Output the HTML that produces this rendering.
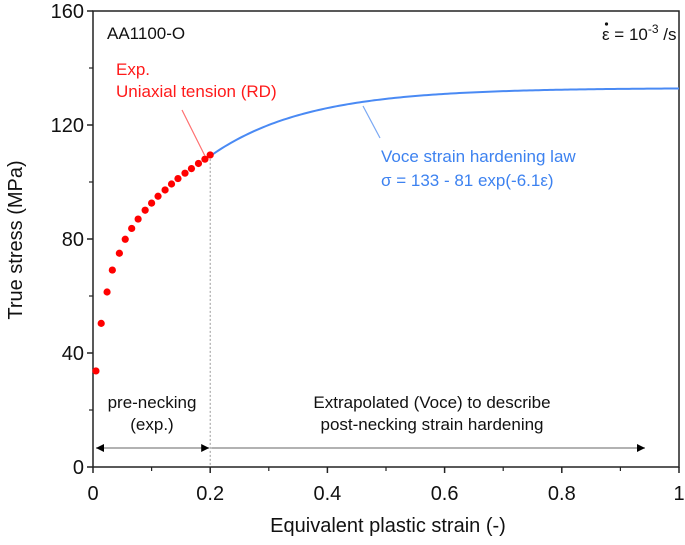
<!DOCTYPE html>
<html><head><meta charset="utf-8"><style>
html,body{margin:0;padding:0;background:#fff}
svg{display:block;font-family:"Liberation Sans",sans-serif}
</style></head><body>
<svg id="chart" width="685" height="545" viewBox="0 0 685 545"></svg>
<script>
const xTicks=[0,0.2,0.4,0.6,0.8,1];
const xTickLabels=["0","0.2","0.4","0.6","0.8","1"];
const yTicks=[0,40,80,120,160];
const yTickLabels=["0","40","80","120","160"];
const expStrain=[0.005,0.014,0.024,0.033,0.045,0.055,0.066,0.077,0.089,0.1,0.111,0.123,0.134,0.145,0.157,0.168,0.18,0.191,0.2];
const expStress=[33.7,50.4,61.4,69.1,75,79.9,83.7,87,90.1,92.6,95,97.2,99.3,101.2,103.1,104.7,106.5,108,109.5];
const voceParams=[133,81,6.1];
const voceRange=[0.2,1.0];

const X0=93,X1=679,Y0=467,Y1=11;
const sx=v=>X0+(v-0)/(1-0)*(X1-X0);
const sy=v=>Y0-(v-0)/(160-0)*(Y0-Y1);
const svg=document.getElementById('chart');
const NS='http://www.w3.org/2000/svg';
function mk(tag,attrs,parent){const e=document.createElementNS(NS,tag);for(const k in attrs)e.setAttribute(k,attrs[k]);(parent||svg).appendChild(e);return e;}

const defs=mk('defs',{});
const m=mk('marker',{id:'ah',viewBox:'0 0 10 10',refX:'10',refY:'5',markerWidth:'11',markerHeight:'8',orient:'auto-start-reverse',markerUnits:'userSpaceOnUse'},defs);
mk('path',{d:'M0,0 L10,5 L0,10 z',fill:'#000'},m);

const frame=mk('rect',{x:X0,y:Y1,width:X1-X0,height:Y0-Y1,fill:'none',stroke:'#222','stroke-width':1.5});



xTicks.forEach((t,i)=>{
  const tk=mk('line',{x1:sx(t),x2:sx(t),y1:Y0,y2:Y0+6,stroke:'#222','stroke-width':1.5});
  
  
  const tx=mk('text',{x:sx(t),y:500,'text-anchor':'middle','font-size':20,fill:'#111'});
  tx.textContent=xTickLabels[i];
  
  
  if(i<xTicks.length-1){
    const mt=mk('line',{x1:sx(t+0.1),x2:sx(t+0.1),y1:Y0,y2:Y0+4,stroke:'#222','stroke-width':1.2});
    
    
  }
});
yTicks.forEach((t,i)=>{
  const tk=mk('line',{x1:X0-6,x2:X0,y1:sy(t),y2:sy(t),stroke:'#222','stroke-width':1.5});
  
  
  const tx=mk('text',{x:X0-9,y:sy(t)+7,'text-anchor':'end','font-size':20,fill:'#111'});
  tx.textContent=yTickLabels[i];
  
  
  if(i<yTicks.length-1){
    const mt=mk('line',{x1:X0-4,x2:X0,y1:sy(t+20),y2:sy(t+20),stroke:'#222','stroke-width':1.2});
    
    
  }
});

const xt=mk('text',{x:388,y:532,'text-anchor':'middle','font-size':20,fill:'#111'});
xt.textContent='Equivalent plastic strain (-)';


const yt=mk('text',{x:0,y:0,'text-anchor':'middle','font-size':20,fill:'#111',transform:'translate(22,240) rotate(-90)'});
yt.textContent='True stress (MPa)';



const nl=mk('line',{x1:sx(0.2),x2:sx(0.2),y1:sy(expStress[expStress.length-1]),y2:Y0,stroke:'#999','stroke-width':1,'stroke-dasharray':'2,2'});



let d='';
for(let k=0;k<=160;k++){
  const e=voceRange[0]+(voceRange[1]-voceRange[0])*k/160;
  const s=voceParams[0]-voceParams[1]*Math.exp(-voceParams[2]*e);
  d+=(k?'L':'M')+sx(e).toFixed(2)+','+sy(s).toFixed(2);
}
const vc=mk('path',{d:d,fill:'none',stroke:'#4a8af4','stroke-width':2});



expStrain.forEach((e,i)=>{
  const c=mk('circle',{cx:sx(e),cy:sy(expStress[i]),r:3.6,fill:'#ff0000'});
  
  
});

const a1=mk('line',{x1:96,x2:sx(0.2)-1,y1:448,y2:448,stroke:'#999','stroke-width':1.5,'marker-start':'url(#ah)','marker-end':'url(#ah)'});


const a2=mk('line',{x1:sx(0.2)+1,x2:645,y1:448,y2:448,stroke:'#999','stroke-width':1.5,'marker-end':'url(#ah)'});



const l1=mk('line',{x1:182,y1:110,x2:205,y2:156,stroke:'#ff7070','stroke-width':1.2});


const l2=mk('line',{x1:363,y1:106,x2:380,y2:138,stroke:'#7aa8f4','stroke-width':1.2});



function txt(x,y,s,fill,name,anchor,size){
  const t=mk('text',{x:x,y:y,'font-size':size||17,fill:fill,'text-anchor':anchor||'start'});
  t.textContent=s;
  
  
  return t;
}
txt(107,39,'AA1100-O','#111','material-label');
txt(116,75,'Exp.','#ff1a1a','exp-label-1');
txt(116,97,'Uniaxial tension (RD)','#ff1a1a','exp-label-2');
txt(381,162,'Voce strain hardening law','#3d82f0','voce-label-1');
txt(381,186,'σ = 133 - 81 exp(-6.1ε)','#3d82f0','voce-equation');
txt(152,408,'pre-necking','#111','pre-necking-label','middle');
txt(152,430,'(exp.)','#111','pre-necking-label-2','middle');
txt(432,408,'Extrapolated (Voce) to describe','#111','extrapolated-label','middle');
txt(432,430,'post-necking strain hardening','#111','extrapolated-label-2','middle');

const sr=mk('text',{x:602,y:40,'font-size':17,fill:'#111','text-anchor':'start'});


sr.innerHTML='ε = 10<tspan dy="-7" font-size="12">-3</tspan><tspan dy="7"> /s</tspan>';
const dot=mk('circle',{cx:606.5,cy:24,r:1.6,fill:'#111'});


</script>
</body></html>
